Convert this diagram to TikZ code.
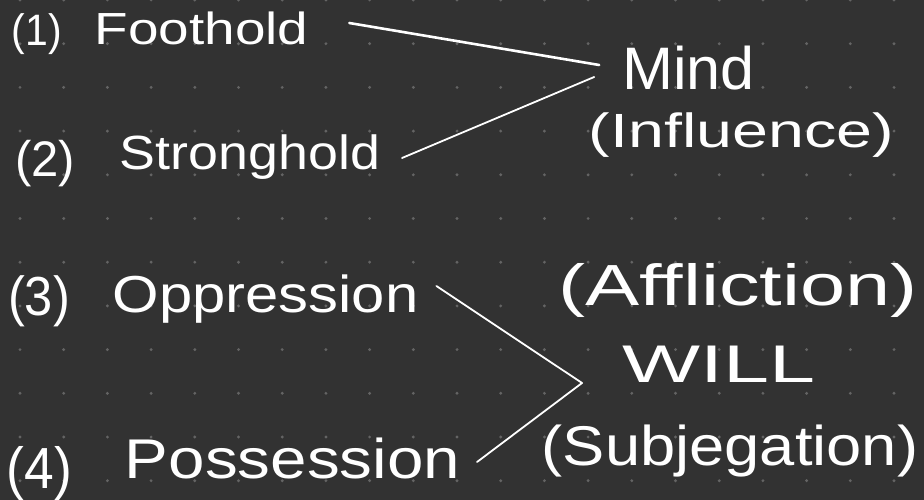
\documentclass[tikz,border=0pt]{standalone}
\usepackage{fontspec}
\setmainfont{Liberation Sans}
\usepackage{graphicx}
\definecolor{bgcol}{HTML}{323232}
\definecolor{dotcol}{HTML}{646464}
% font size, horizontal stretch, text
\newcommand{\hwt}[3]{{\fontsize{#1}{#1}\selectfont\scalebox{#2}[1]{#3}}}
\tikzset{
  hw/.style={text=white, inner sep=0pt, outer sep=0pt, anchor=base},
  stroke/.style={draw=white, line width=1.8pt, line cap=round},
  thickstroke/.style={draw=white, line width=2.6pt, line cap=round}
}
\begin{document}
\begin{tikzpicture}[x=1pt, y=-1pt]
\clip (0,0) rectangle (924,500);
\fill[bgcol] (0,0) rectangle (924,500);
% dot grid
\foreach \i in {0,...,20} {
  \foreach \j in {0,...,11} {
    \fill[dotcol] ({20+43.7*\i},{43.7*\j}) circle (1.6);
  }
}
% labels placed by (horizontal centre, baseline)
\node[hw] (n1) at (37,46) {\hwt{44}{0.93}{(1)}};
\node[hw] (foothold) at (201.5,45) {\hwt{45}{1.22}{Foothold}};
\node[hw] (n2) at (45,177) {\hwt{50}{0.98}{(2)}};
\node[hw] (stronghold) at (250,170) {\hwt{48}{1.12}{Stronghold}};
\node[hw] (mind) at (688.5,90) {\hwt{60}{1.02}{Mind}};
\node[hw] (influence) at (741.5,148) {\hwt{48}{1.345}{(Influence)}};
\node[hw] (n3) at (39,315) {\hwt{55}{0.92}{(3)}};
\node[hw] (oppression) at (265.5,312) {\hwt{52}{1.15}{Oppression}};
\node[hw] (affliction) at (738,305) {\hwt{58}{1.40}{(Affliction)}};
\node[hw] (will) at (718.5,382) {\hwt{53}{1.56}{WILL}};
\node[hw] (n4) at (39.5,488) {\hwt{58}{0.92}{(4)}};
\node[hw] (possession) at (292.5,478) {\hwt{56}{1.17}{Possession}};
\node[hw] (subjegation) at (730,465) {\hwt{56}{1.13}{(Subjegation)}};
% connector tips
\coordinate (mindtipA) at ([xshift=-23pt,yshift=25pt]mind.base west);
\coordinate (mindtipB) at ([xshift=-28pt,yshift=13pt]mind.base west);
\coordinate (willtip) at ([xshift=-40pt,yshift=-1pt]will.base west);
% connectors
\draw[thickstroke] ([xshift=41pt,yshift=22pt]foothold.base east) -- (mindtipA);
\draw[stroke] ([xshift=22pt,yshift=12pt]stronghold.base east) -- (mindtipB);
\draw[stroke] ([xshift=18pt,yshift=26pt]oppression.base east) -- (willtip);
\draw[stroke] ([xshift=17pt,yshift=16pt]possession.base east) -- (willtip);
\end{tikzpicture}
\end{document}
